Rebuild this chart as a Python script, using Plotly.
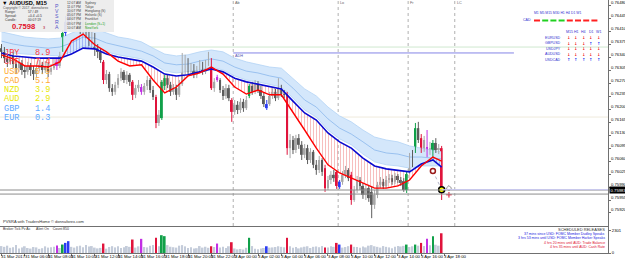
import plotly.graph_objects as go

# ---------------- data ----------------
tick_bars = [0, 8, 16, 24, 32, 40, 48, 56, 64, 72, 80, 88, 96, 104, 112, 120, 128, 136, 144, 152]
tick_text = ["31 Mar 2017", "31 Mar 06:00", "31 Mar 08:00", "31 Mar 10:00", "31 Mar 12:00",
             "31 Mar 14:00", "31 Mar 16:00", "31 Mar 18:00", "31 Mar 20:00", "31 Mar 22:00",
             "3 Apr 00:00", "3 Apr 02:00", "3 Apr 04:00", "3 Apr 06:00", "3 Apr 08:00",
             "3 Apr 10:00", "3 Apr 12:00", "3 Apr 14:00", "3 Apr 16:00", "3 Apr 18:00"]
price_ticks = [0.76480, 0.76445, 0.76410, 0.76375, 0.76340, 0.76305, 0.76270, 0.76235, 0.76200,
               0.76165, 0.76130, 0.76095, 0.76060, 0.76025, 0.75990, 0.75955, 0.75920]

open_ = [
    0.76365, 0.76355, 0.76338, 0.76328, 0.76344, 0.76322, 0.76311, 0.76325, 0.76306, 0.76301,
    0.76317, 0.76306, 0.76295, 0.76311, 0.76320, 0.76306, 0.76317, 0.76301, 0.76311, 0.76328,
    0.76317, 0.76360, 0.76406, 0.76436, 0.76463, 0.76441, 0.76455, 0.76428, 0.76414, 0.76436,
    0.76401, 0.76387, 0.76398, 0.76365, 0.76355, 0.76328, 0.76279, 0.76295, 0.76257, 0.76247,
    0.76266, 0.76284, 0.76301, 0.76279, 0.76293, 0.76274, 0.76239, 0.76257, 0.76260, 0.76247,
    0.76263, 0.76279, 0.76252, 0.76233, 0.76163, 0.76176, 0.76263, 0.76284, 0.76266, 0.76247,
    0.76257, 0.76239, 0.76268, 0.76306, 0.76328, 0.76301, 0.76311, 0.76293, 0.76306, 0.76320,
    0.76301, 0.76322, 0.76328, 0.76257, 0.76287, 0.76279, 0.76252, 0.76236, 0.76257, 0.76225,
    0.76193, 0.76212, 0.76198, 0.76220, 0.76203, 0.76236, 0.76263, 0.76247, 0.76268, 0.76252,
    0.76236, 0.76203, 0.76214, 0.76236, 0.76247, 0.76230, 0.76257, 0.76241, 0.76239, 0.76095,
    0.76117, 0.76090, 0.76122, 0.76104, 0.76077, 0.76095, 0.76063, 0.76085, 0.76050, 0.76036,
    0.76063, 0.76041, 0.75987, 0.76009, 0.76023, 0.76031, 0.75990, 0.76004, 0.76023, 0.76036,
    0.76023, 0.75955, 0.75982, 0.76009, 0.75993, 0.75969, 0.75987, 0.75977, 0.75942, 0.75969,
    0.75996, 0.76004, 0.75993, 0.76009, 0.76014, 0.76004, 0.76020, 0.76009, 0.76006, 0.75982,
    0.76031, 0.76068, 0.76085, 0.76149, 0.76122, 0.76090, 0.76098, 0.76087, 0.76074, 0.76109,
    0.76090, 0.76095]
high = [
    0.76376, 0.76368, 0.76349, 0.76352, 0.76355, 0.76333, 0.76336, 0.76333, 0.76317, 0.76328,
    0.76325, 0.76317, 0.76322, 0.76333, 0.76328, 0.76330, 0.76325, 0.76322, 0.76338, 0.76336,
    0.76355, 0.76414, 0.76452, 0.76482, 0.76473, 0.76471, 0.76465, 0.76441, 0.76449, 0.76444,
    0.76414, 0.76409, 0.76406, 0.76376, 0.76365, 0.76333, 0.76306, 0.76301, 0.76268, 0.76274,
    0.76295, 0.76311, 0.76306, 0.76303, 0.76298, 0.76279, 0.76266, 0.76279, 0.76268, 0.76271,
    0.76290, 0.76284, 0.76263, 0.76239, 0.76198, 0.76279, 0.76293, 0.76295, 0.76274, 0.76268,
    0.76266, 0.76279, 0.76352, 0.76347, 0.76338, 0.76325, 0.76322, 0.76317, 0.76333, 0.76328,
    0.76333, 0.76355, 0.76338, 0.76284, 0.76293, 0.76284, 0.76263, 0.76268, 0.76266, 0.76230,
    0.76225, 0.76222, 0.76230, 0.76228, 0.76236, 0.76268, 0.76274, 0.76279, 0.76276, 0.76263,
    0.76244, 0.76225, 0.76247, 0.76257, 0.76255, 0.76284, 0.76266, 0.76252, 0.76247, 0.76133,
    0.76128, 0.76131, 0.76133, 0.76114, 0.76106, 0.76104, 0.76095, 0.76090, 0.76063, 0.76074,
    0.76068, 0.76050, 0.76020, 0.76033, 0.76036, 0.76036, 0.76009, 0.76033, 0.76047, 0.76041,
    0.76031, 0.75993, 0.76020, 0.76017, 0.76001, 0.75998, 0.75996, 0.75993, 0.75982, 0.76004,
    0.76017, 0.76012, 0.76020, 0.76025, 0.76023, 0.76028, 0.76025, 0.76017, 0.76014, 0.76031,
    0.76082, 0.76090, 0.76163, 0.76166, 0.76133, 0.76128, 0.76144, 0.76112, 0.76117, 0.76122,
    0.76106, 0.76101]
low = [
    0.76338, 0.76325, 0.76314, 0.76320, 0.76311, 0.76295, 0.76301, 0.76293, 0.76284, 0.76293,
    0.76290, 0.76279, 0.76287, 0.76303, 0.76295, 0.76298, 0.76287, 0.76293, 0.76306, 0.76306,
    0.76311, 0.76355, 0.76398, 0.76428, 0.76430, 0.76425, 0.76417, 0.76403, 0.76403, 0.76392,
    0.76371, 0.76374, 0.76344, 0.76338, 0.76325, 0.76268, 0.76268, 0.76247, 0.76236, 0.76239,
    0.76257, 0.76276, 0.76271, 0.76268, 0.76263, 0.76225, 0.76230, 0.76247, 0.76239, 0.76239,
    0.76252, 0.76244, 0.76225, 0.76149, 0.76155, 0.76171, 0.76252, 0.76257, 0.76236, 0.76239,
    0.76225, 0.76233, 0.76263, 0.76295, 0.76293, 0.76290, 0.76284, 0.76284, 0.76298, 0.76293,
    0.76295, 0.76317, 0.76252, 0.76247, 0.76274, 0.76244, 0.76225, 0.76228, 0.76222, 0.76166,
    0.76185, 0.76187, 0.76190, 0.76193, 0.76198, 0.76230, 0.76239, 0.76241, 0.76244, 0.76228,
    0.76206, 0.76198, 0.76209, 0.76228, 0.76222, 0.76225, 0.76233, 0.76230, 0.76077, 0.76068,
    0.76079, 0.76082, 0.76093, 0.76063, 0.76068, 0.76052, 0.76055, 0.76041, 0.76023, 0.76028,
    0.76020, 0.75977, 0.75982, 0.75998, 0.76004, 0.75985, 0.75985, 0.75996, 0.76014, 0.76006,
    0.75942, 0.75950, 0.75974, 0.75982, 0.75958, 0.75955, 0.75950, 0.75906, 0.75931, 0.75960,
    0.75987, 0.75985, 0.75987, 0.76001, 0.75996, 0.75998, 0.76001, 0.75993, 0.75977, 0.75974,
    0.76025, 0.76044, 0.76082, 0.76109, 0.76082, 0.76085, 0.76071, 0.76077, 0.76068, 0.76082,
    0.76079, 0.75955]
close = [
    0.76355, 0.76338, 0.76328, 0.76344, 0.76322, 0.76311, 0.76325, 0.76306, 0.76301, 0.76317,
    0.76306, 0.76295, 0.76311, 0.76320, 0.76306, 0.76317, 0.76301, 0.76311, 0.76322, 0.76317,
    0.76344, 0.76406, 0.76436, 0.76463, 0.76441, 0.76455, 0.76428, 0.76414, 0.76436, 0.76401,
    0.76387, 0.76398, 0.76365, 0.76355, 0.76333, 0.76279, 0.76295, 0.76257, 0.76247, 0.76266,
    0.76284, 0.76301, 0.76279, 0.76293, 0.76274, 0.76239, 0.76257, 0.76266, 0.76247, 0.76263,
    0.76279, 0.76252, 0.76233, 0.76163, 0.76185, 0.76274, 0.76284, 0.76266, 0.76247, 0.76257,
    0.76239, 0.76268, 0.76306, 0.76328, 0.76301, 0.76311, 0.76293, 0.76306, 0.76320, 0.76301,
    0.76322, 0.76333, 0.76257, 0.76274, 0.76279, 0.76252, 0.76236, 0.76257, 0.76230, 0.76193,
    0.76212, 0.76198, 0.76220, 0.76203, 0.76225, 0.76263, 0.76247, 0.76268, 0.76252, 0.76236,
    0.76214, 0.76214, 0.76236, 0.76247, 0.76230, 0.76257, 0.76241, 0.76239, 0.76095, 0.76117,
    0.76090, 0.76122, 0.76104, 0.76077, 0.76095, 0.76063, 0.76085, 0.76050, 0.76036, 0.76063,
    0.76031, 0.75987, 0.76009, 0.76023, 0.76014, 0.75993, 0.76004, 0.76023, 0.76036, 0.76014,
    0.75955, 0.75982, 0.76009, 0.75993, 0.75969, 0.75987, 0.75960, 0.75942, 0.75969, 0.75996,
    0.76004, 0.75993, 0.76009, 0.76014, 0.76004, 0.76020, 0.76009, 0.76001, 0.75982, 0.76025,
    0.76068, 0.76050, 0.76149, 0.76117, 0.76090, 0.76117, 0.76087, 0.76095, 0.76109, 0.76090,
    0.76095, 0.75983]
volume = [
    720, 640, 760, 540, 600, 820, 480, 560, 700, 520,
    460, 620, 580, 430, 500, 690, 560, 610, 650, 770,
    520, 880, 1050, 1230, 640, 560, 700, 760, 590, 820,
    680, 720, 560, 480, 530, 980, 450, 620, 710, 580,
    690, 510, 600, 730, 640, 1400, 560, 690, 1470, 620,
    580, 750, 830, 1580, 700, 1850, 1750, 820, 650, 600,
    560, 760, 820, 690, 530, 610, 480, 500, 720, 560,
    650, 540, 700, 620, 980, 580, 640, 520, 700, 1120,
    470, 380, 420, 360, 540, 1580, 720, 450, 400, 480,
    520, 700, 560, 580, 620, 700, 640, 590, 1580, 690,
    540, 620, 480, 580, 650, 700, 520, 640, 680, 600,
    720, 560, 580, 700, 640, 1050, 875, 560, 620, 710,
    875, 640, 620, 540, 680, 580, 760, 820, 700, 640,
    560, 720, 640, 580, 500, 660, 720, 680, 740, 875,
    620, 700, 875, 760, 1050, 720, 1470, 800, 1750, 860,
    760, 2050]

# PVSRA vector candles (g climax bull, r climax bear, b rising bull, m rising bear)
vec_idx = [19, 21, 22, 23, 35, 45, 48, 53, 55, 56, 72, 74, 79, 85, 91, 98, 111, 115, 116, 120,
           139, 142, 144, 146, 148, 151]
vec_type = ["m", "g", "b", "b", "r", "r", "m", "r", "g", "g", "r", "m", "r", "g", "b", "r", "r", "r",
            "b", "r", "g", "g", "r", "m", "g", "r"]

ema_idx = [0, 4, 8, 12, 16, 20, 24, 28, 32, 36, 40, 44, 48, 52, 56, 60, 64, 68, 72, 76, 80, 84, 88,
           92, 96, 100, 104, 108, 112, 116, 120, 124, 128, 132, 136, 140, 144, 148, 151]
ema_fast = [0.76347, 0.76336, 0.76317, 0.76317, 0.76314, 0.76328, 0.76384, 0.76403, 0.76374, 0.76355,
            0.76330, 0.76317, 0.76320, 0.76279, 0.76244, 0.76260, 0.76290, 0.76298, 0.76314, 0.76295,
            0.76260, 0.76241, 0.76252, 0.76239, 0.76239, 0.76193, 0.76144, 0.76095, 0.76050, 0.76028,
            0.76014, 0.76001, 0.75987, 0.75987, 0.75993, 0.76009, 0.76047, 0.76071, 0.76060]
ema_slow = [0.76352, 0.76344, 0.76341, 0.76338, 0.76338, 0.76338, 0.76349, 0.76365, 0.76363, 0.76349,
            0.76341, 0.76336, 0.76330, 0.76314, 0.76295, 0.76290, 0.76293, 0.76301, 0.76309, 0.76301,
            0.76284, 0.76274, 0.76268, 0.76260, 0.76255, 0.76222, 0.76190, 0.76171, 0.76136, 0.76112,
            0.76095, 0.76068, 0.76047, 0.76039, 0.76036, 0.76031, 0.76052, 0.76063, 0.76044]
band_upper = [0.76409, 0.76401, 0.76395, 0.76392, 0.76390, 0.76392, 0.76406, 0.76419, 0.76417, 0.76406,
              0.76395, 0.76390, 0.76382, 0.76365, 0.76349, 0.76344, 0.76347, 0.76355, 0.76360, 0.76355,
              0.76338, 0.76328, 0.76322, 0.76314, 0.76311, 0.76284, 0.76255, 0.76236, 0.76206, 0.76182,
              0.76166, 0.76144, 0.76125, 0.76117, 0.76112, 0.76101, 0.76095, 0.76090, 0.76085]
band_lower = [0.76360, 0.76352, 0.76349, 0.76347, 0.76344, 0.76344, 0.76355, 0.76371, 0.76368, 0.76355,
              0.76347, 0.76341, 0.76336, 0.76322, 0.76303, 0.76298, 0.76301, 0.76306, 0.76314, 0.76306,
              0.76290, 0.76279, 0.76274, 0.76266, 0.76260, 0.76230, 0.76198, 0.76179, 0.76144, 0.76120,
              0.76104, 0.76079, 0.76058, 0.76050, 0.76047, 0.76041, 0.76047, 0.76047, 0.76047]
band_mid = [0.76384, 0.76376, 0.76371, 0.76368, 0.76365, 0.76368, 0.76379, 0.76395, 0.76392, 0.76379,
            0.76371, 0.76365, 0.76357, 0.76344, 0.76325, 0.76320, 0.76322, 0.76330, 0.76336, 0.76330,
            0.76314, 0.76303, 0.76298, 0.76290, 0.76284, 0.76257, 0.76225, 0.76206, 0.76174, 0.76149,
            0.76133, 0.76112, 0.76090, 0.76082, 0.76079, 0.76071, 0.76071, 0.76068, 0.76066]

level_green = 0.76368
level_adh = 0.76352
adh_span = [79.5, 175.8]
level_faint = 0.76179
level_grey = [0.75982, 0.75971]
session_bars = [79.5, 115.5, 139.5, 155.5]
session_labels = ["Ab", "Lo", "Fr", "LC"]
signal_bars = [148, 151]
signal_prices = [0.76033, 0.75983]
mark_diamond = (153.5, 0.75987)
mark_plus = (153.5, 0.75969)

currencies = ["JPY", "CHF", "USD", "CAD", "NZD", "AUD", "GBP", "EUR"]
strength = [8.9, 7.4, 5.9, 5.1, 3.9, 2.9, 1.4, 0.3]
strength_colors = ["#ff3b3b", "#ff3b3b", "#ffaa33", "#ffaa33", "#e8e800", "#e8e800", "#5fa8ff", "#5fa8ff"]

pairs = ["EURUSD", "GBPUSD", "USDJPY", "AUDUSD", "USDCAD"]
tfs = ["M15", "H1", "H4", "D1", "W1"]
dirs = [["d", "d", "d", "d", "d"],
        ["d", "d", "d", "u", "u"],
        ["d", "d", "d", "d", "d"],
        ["d", "d", "d", "d", "d"],
        ["u", "u", "u", "u", "u"]]
cad_tf = ["M1", "M5", "M15", "M30", "H1", "H4", "D1", "W1"]
cad_state = ["r", "g", "g", "g", "r", "r", "r", "r"]

cities = ["Sydney", "Tokyo", "Hongkong (S)", "Helsinki (S)", "Frankfurt", "London (S+1)", "NewYork"]
city_times = ["12:07 AM", "11:07 PM", "10:07 PM", "05:07 PM", "04:07 PM", "03:07 PM", "10:07 AM"]
city_open = [False, False, False, False, False, True, True]

releases = ["37 mins since USD: FOMC Member Dudley Speaks",
            "3 hrs 53 mins until USD: FOMC Member Harker Speaks",
            "4 hrs 20 mins until AUD: Trade Balance",
            "4 hrs 35 mins until AUD: Cash Rate"]
release_colors = ["#2020e0", "#2020e0", "#e01030", "#e01030"]

# ---------------- layout helpers ----------------
W, H = 625, 260
ML, MR, MT, MB = 0, 17, 0, 7
PW, PH = W - ML - MR, H - MT - MB
def px(x): return x / PW
def py(y): return (PH - y) / PH

Y0 = 0.76495
PPX = 0.000027
main_range = [Y0 - PPX * 226, Y0]

N = len(close)
cls = ["n"] * N
for i, t in zip(vec_idx, vec_type):
    cls[i] = t
vcol = {"g": "#10a049", "r": "#e0143c", "b": "#2b3cf2", "m": "#c22fe4"}
bull_col, bear_col = "#a8a8a8", "#5c5c5c"
vol_norm = "#c4ccda"

def ccol(i):
    if cls[i] != "n":
        return vcol[cls[i]]
    return bull_col if close[i] >= open_[i] else bear_col

fig = go.Figure()

# band
fig.add_trace(go.Scatter(x=ema_idx, y=band_upper, mode="lines", line=dict(color="#b3d3f5", width=0.8),
                         hoverinfo="skip", xaxis="x", yaxis="y"))
fig.add_trace(go.Scatter(x=ema_idx, y=band_lower, mode="lines", line=dict(color="#b3d3f5", width=0.8),
                         fill="tonexty", fillcolor="#d4e7fb", hoverinfo="skip", xaxis="x", yaxis="y"))
fig.add_trace(go.Scatter(x=ema_idx, y=band_mid, mode="lines", line=dict(color="#7fb0ea", width=0.7),
                         hoverinfo="skip", xaxis="x", yaxis="y"))

# hatch between fast and slow
segs = []
cur = [(ema_idx[0], ema_fast[0], ema_slow[0])]
s_prev = ema_fast[0] < ema_slow[0]
for k in range(1, len(ema_idx)):
    x0, r0, b0 = ema_idx[k - 1], ema_fast[k - 1], ema_slow[k - 1]
    x1, r1, b1 = ema_idx[k], ema_fast[k], ema_slow[k]
    s1 = r1 < b1
    if s1 != s_prev and (r1 - b1) != (r0 - b0):
        d0, d1 = r0 - b0, r1 - b1
        t = d0 / (d0 - d1)
        xc = x0 + t * (x1 - x0)
        yc = r0 + t * (r1 - r0)
        cur.append((xc, yc, yc))
        segs.append((s_prev, cur))
        cur = [(xc, yc, yc)]
        s_prev = s1
    cur.append((x1, r1, b1))
segs.append((s_prev, cur))
for below, pts in segs:
    xs = [p[0] for p in pts] + [p[0] for p in reversed(pts)]
    ys = [p[1] for p in pts] + [p[2] for p in reversed(pts)]
    col = "#f08080" if below else "#6f86ee"
    fig.add_trace(go.Scatter(x=xs, y=ys, mode="lines", line=dict(width=0), fill="toself",
                             fillcolor="rgba(0,0,0,0)",
                             fillpattern=dict(shape="|", size=3, solidity=0.34, fgcolor=col,
                                              bgcolor="rgba(0,0,0,0)"),
                             hoverinfo="skip", xaxis="x", yaxis="y"))

# candles grouped by colour
groups = {}
for i in range(N):
    groups.setdefault(ccol(i), []).append(i)
for col, idxs in groups.items():
    wx, wy = [], []
    for i in idxs:
        wx += [i, i, None]
        wy += [low[i], high[i], None]
    fig.add_trace(go.Scatter(x=wx, y=wy, mode="lines", line=dict(color=col, width=1),
                             hoverinfo="skip", xaxis="x", yaxis="y"))
    fig.add_trace(go.Bar(x=idxs, base=[min(open_[i], close[i]) for i in idxs],
                         y=[max(abs(close[i] - open_[i]), 0.000014) for i in idxs],
                         width=0.66, marker=dict(color=col, line=dict(width=0)),
                         hoverinfo="skip", xaxis="x", yaxis="y"))

# moving averages
fig.add_trace(go.Scatter(x=ema_idx, y=ema_slow, mode="lines", line=dict(color="#0a0ad0", width=1.6),
                         hoverinfo="skip", xaxis="x", yaxis="y"))
fig.add_trace(go.Scatter(x=ema_idx, y=ema_fast, mode="lines", line=dict(color="#ff0000", width=1.4),
                         hoverinfo="skip", xaxis="x", yaxis="y"))

# signal marks
fig.add_trace(go.Scatter(x=signal_bars, y=signal_prices, mode="lines",
                         line=dict(color="#b4b4c8", width=1, dash="dot"), hoverinfo="skip",
                         xaxis="x", yaxis="y"))
fig.add_trace(go.Scatter(x=[signal_bars[0]], y=[signal_prices[0]], mode="markers",
                         marker=dict(symbol="circle", size=5, color="white",
                                     line=dict(color="#9a1a1a", width=1.5)),
                         hoverinfo="skip", xaxis="x", yaxis="y"))
fig.add_trace(go.Scatter(x=[signal_bars[1]], y=[signal_prices[1]], mode="markers",
                         marker=dict(symbol="circle", size=6, color="#ffff00",
                                     line=dict(color="black", width=1.5)),
                         hoverinfo="skip", xaxis="x", yaxis="y"))
fig.add_trace(go.Scatter(x=[mark_diamond[0]], y=[mark_diamond[1]], mode="markers",
                         marker=dict(symbol="diamond-open", size=4, color="#909090"),
                         hoverinfo="skip", xaxis="x", yaxis="y"))
fig.add_trace(go.Scatter(x=[mark_plus[0]], y=[mark_plus[1]], mode="markers",
                         marker=dict(symbol="cross-thin-open", size=4, color="#e01030",
                                     line=dict(color="#e01030", width=1)),
                         hoverinfo="skip", xaxis="x", yaxis="y"))

# volume
vgroups = {}
for i in range(N):
    c = vcol[cls[i]] if cls[i] != "n" else vol_norm
    vgroups.setdefault(c, []).append(i)
for col, idxs in vgroups.items():
    fig.add_trace(go.Bar(x=idxs, y=[volume[i] for i in idxs], width=0.6,
                         marker=dict(color=col, line=dict(width=0)),
                         hoverinfo="skip", xaxis="x2", yaxis="y2"))

# ---------------- shapes ----------------
shapes = []
shapes.append(dict(type="line", xref="paper", yref="y", x0=0, x1=1, y0=level_green, y1=level_green,
                   line=dict(color="#cfe8cf", width=1), layer="below"))
shapes.append(dict(type="line", xref="paper", yref="y", x0=0, x1=1, y0=level_faint, y1=level_faint,
                   line=dict(color="#efeadc", width=1), layer="below"))
shapes.append(dict(type="line", xref="x", yref="y", x0=adh_span[0], x1=adh_span[1], y0=level_adh,
                   y1=level_adh, line=dict(color="#8585e6", width=1)))
for lv in level_grey:
    shapes.append(dict(type="line", xref="paper", yref="y", x0=0, x1=1, y0=lv, y1=lv,
                       line=dict(color="#8c8c8c", width=1)))
shapes.append(dict(type="line", xref="x", yref="y", x0=N - 1, x1=208.1, y0=close[-1], y1=close[-1],
                   line=dict(color="#c9c9f2", width=1)))
for sb in session_bars:
    shapes.append(dict(type="line", xref="x", yref="y domain", x0=sb, x1=sb, y0=0, y1=1,
                       line=dict(color="#b0b0b0", width=1, dash="dot"), layer="below"))
# info box
shapes.append(dict(type="rect", xref="paper", yref="paper", x0=px(0), x1=px(114), y0=py(32), y1=py(0),
                   fillcolor="rgba(236,236,236,0.93)", line=dict(width=0), layer="above"))
# CAD strength dashes
for k, st in enumerate(cad_state):
    xc = 537 + k * 8.2
    shapes.append(dict(type="line", xref="paper", yref="paper", x0=px(xc - 3), x1=px(xc + 3),
                       y0=py(20.5), y1=py(20.5),
                       line=dict(color="#ff2020" if st == "r" else "#20d020", width=2)))

# ---------------- annotations ----------------
ann = []
def T(x, y, text, size, color="#000000", xanchor="left", bold=False, family="Liberation Sans",
      yanchor="middle", bg=None):
    d = dict(xref="paper", yref="paper", x=px(x), y=py(y), text=("<b>%s</b>" % text) if bold else text,
             showarrow=False, xanchor=xanchor, yanchor=yanchor,
             font=dict(size=size, color=color, family=family), borderpad=0)
    if bg:
        d["bgcolor"] = bg
    ann.append(d)

# price labels (MT4 draws them just above their tick)
for v in price_ticks:
    ann.append(dict(xref="paper", yref="y", x=1.0 + 2.5 / PW, y=v, yshift=3, text="%.5f" % v,
                    showarrow=False, xanchor="left", yanchor="middle", borderpad=0,
                    font=dict(size=4.2, color="#000000", family="Liberation Sans")))
# x tick labels
for b, t in zip(tick_bars, tick_text):
    ann.append(dict(xref="x2", yref="paper", x=b - 0.4, y=py(253.3), text=t, showarrow=False,
                    xanchor="left", yanchor="top", font=dict(size=4.3, color="#000000",
                                                               family="Liberation Sans"),
                    borderpad=0))
# current price box
ann.append(dict(xref="paper", yref="y", x=1.0 + 1 / PW, y=close[-1], text="%.5f" % close[-1],
                showarrow=False, xanchor="left", yanchor="middle", bgcolor="#000000",
                font=dict(size=4.2, color="#ffffff", family="Liberation Sans"), borderpad=0.6))
# currency strength
for k, (c, s, col) in enumerate(zip(currencies, strength, strength_colors)):
    T(3, 53 + k * 9.3, "%s   %.1f" % (c, s), 8.6, col, family="Liberation Mono")
# info box texts
T(1, 3.2, "▼ AUDUSD, M15", 5.6, "#000000", bold=True)
T(2, 7.8, "Copyright © 2017, donnaforex", 3.4, "#555555")
for k, (a, b) in enumerate([("Range:", "57 / 49"), ("Spread:", "+0.4 +0.5"), ("Candle:", "00:07:19")]):
    T(4, 12 + k * 3.8, a, 3.3, "#333333")
    T(27, 12 + k * 3.8, b, 3.3, "#333333")
T(11, 26.8, "%.4f" % close[-1], 7.6, "#e0102a", bold=True)
T(42, 28.2, "3", 3.8, "#b00020")
for k, ch in enumerate("PVSRA"):
    T(57, 6 + k * 5.2, ch, 5.2, "#5656c8", xanchor="center")
for k, (tm, cty, op) in enumerate(zip(city_times, cities, city_open)):
    T(66, 2.5 + k * 4.2, tm, 3.3, "#444444")
    T(84, 2.5 + k * 4.2, cty, 3.3, "#18a018" if op else "#444444")
# session labels and ADH
for sb, lb in zip(session_bars, session_labels):
    ann.append(dict(xref="x", yref="paper", x=sb + 0.3, y=py(3), text=lb, showarrow=False,
                    xanchor="left", yanchor="middle",
                    font=dict(size=3.8, color="#666666", family="Liberation Sans"), borderpad=0))
ann.append(dict(xref="x", yref="y", x=adh_span[0] + 0.3, y=level_adh, text="ADH", showarrow=False,
                xanchor="left", yanchor="top", font=dict(size=3.8, color="#5050b0",
                                                         family="Liberation Sans"), borderpad=0))
# top right table
T(533, 13, " ".join(cad_tf), 3.4, "#3030d0")
T(532, 20.5, "CAD", 3.6, "#3030d0", xanchor="right")
for k, tf in enumerate(tfs):
    T(569 + k * 7.4, 32, tf, 3.6, "#3030d0", xanchor="center")
for r, pr in enumerate(pairs):
    T(562, 37.5 + r * 5.6, pr, 3.6, "#3030d0", xanchor="right")
    for k, d in enumerate(dirs[r]):
        T(569 + k * 7.4, 37.5 + r * 5.6, "<b>↓</b>" if d == "d" else "<b>↑</b>", 4.2,
          "#f01818" if d == "d" else "#2030f0", xanchor="center", family="DejaVu Sans")
# bottom texts
T(2, 221.5, "PVSRA with TradersHome © donnaforex.com", 4, "#303030")
T(2, 229.3, "Broker Tick Pv Ac      Alert On    Count 850", 3.5, "#303030")
T(606, 229.3, "SCHEDULED RELEASES", 4, "#303030", xanchor="right")
for k, (t, c) in enumerate(zip(releases, release_colors)):
    T(606, 234.3 + k * 4.1, t, 3.5, c, xanchor="right")

fig.update_layout(
    width=W, height=H, margin=dict(l=ML, r=MR, t=MT, b=MB),
    paper_bgcolor="white", plot_bgcolor="white", showlegend=False, barmode="overlay",
    shapes=shapes, annotations=ann,
    xaxis=dict(domain=[0, 1], range=[-0.515, 208.07], showticklabels=False, showgrid=False,
               zeroline=False, showline=True, linecolor="#707070", linewidth=1, anchor="y",
               fixedrange=True),
    xaxis2=dict(domain=[0, 1], range=[-0.515, 208.07], showticklabels=False, showgrid=False,
                zeroline=False, showline=True, mirror=True, linecolor="#707070", linewidth=1,
                anchor="y2", matches="x", ticks="outside", ticklen=2, tickcolor="#707070",
                tickvals=tick_bars),
    yaxis=dict(domain=[(PH - 226) / PH, 1], range=main_range, side="right", showgrid=False,
               zeroline=False, showline=True, linecolor="#707070", linewidth=1,
               tickvals=price_ticks, showticklabels=False,
               ticks="outside", ticklen=2, tickcolor="#707070", anchor="x"),
    yaxis2=dict(domain=[0, (PH - 227) / PH], range=[0, 2700], side="right", showgrid=False,
                zeroline=False, showline=True, linecolor="#707070", linewidth=1,
                tickvals=[0, 2301], ticktext=["0", "2301"],
                tickfont=dict(size=4.2, color="#000000", family="Liberation Sans"),
                ticks="outside", ticklen=2, tickcolor="#707070", anchor="x2"),
)

fig.write_html("out.html")
